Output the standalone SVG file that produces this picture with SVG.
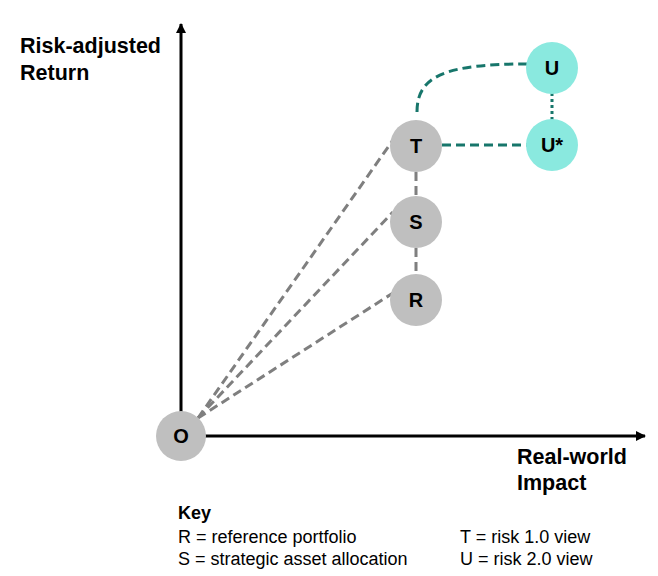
<svg xmlns="http://www.w3.org/2000/svg" width="658" height="576" viewBox="0 0 658 576">
<defs>
<style>
.axis{stroke:#000;stroke-width:3;fill:none}
.gl{stroke:#7f7f7f;stroke-width:3;stroke-dasharray:9,5;fill:none}
.tl{stroke:#17766b;stroke-width:3;stroke-dasharray:9,5;fill:none}
.td{stroke:#17766b;stroke-width:3;stroke-dasharray:3,3;fill:none}
.gn{fill:#bfbfbf}
.tn{fill:#8ae9df}
.nl{font-family:"Liberation Sans",Arial,sans-serif;font-weight:bold;font-size:20px;fill:#000;text-anchor:middle}
.ax{font-family:"Liberation Sans",Arial,sans-serif;font-weight:bold;font-size:21.5px;fill:#000}
.key{font-family:"Liberation Sans",Arial,sans-serif;font-size:18px;fill:#000}
</style>
<marker id="ah" viewBox="0 0 10 10" refX="9" refY="5" markerWidth="10" markerHeight="10" markerUnits="userSpaceOnUse" orient="auto">
<path d="M0,0 L10,5 L0,10 Z" fill="#000"/>
</marker>
</defs>
<g id="connectors">
<line class="axis" x1="181" y1="436" x2="181" y2="24" marker-end="url(#ah)"/>
<line class="axis" x1="181" y1="436" x2="645" y2="436" marker-end="url(#ah)"/>
<line class="gl" x1="198" y1="418" x2="393" y2="140"/>
<line class="gl" x1="198" y1="418" x2="393" y2="212"/>
<line class="gl" x1="198" y1="418" x2="393" y2="293"/>
<line class="gl" x1="416" y1="172" x2="416" y2="196"/>
<line class="gl" x1="416" y1="248" x2="416" y2="274"/>
<line class="tl" x1="442" y1="145" x2="527" y2="145"/>
<path class="tl" d="M417,112 C417,76 445,64 527,64"/>
<line class="td" x1="552" y1="93" x2="552" y2="120"/>
</g>
<g id="node-O"><circle class="gn" cx="181" cy="436" r="25"/><text class="nl" x="181" y="443">O</text></g>
<g id="node-T"><circle class="gn" cx="416" cy="146" r="26"/><text class="nl" x="416" y="153">T</text></g>
<g id="node-S"><circle class="gn" cx="416" cy="222" r="26"/><text class="nl" x="416" y="229">S</text></g>
<g id="node-R"><circle class="gn" cx="416" cy="300" r="26"/><text class="nl" x="416" y="307">R</text></g>
<g id="node-U"><circle class="tn" cx="552" cy="68" r="26"/><text class="nl" x="552" y="75">U</text></g>
<g id="node-Ustar"><circle class="tn" cx="552" cy="145" r="26"/><text class="nl" x="552" y="152">U*</text></g>
<g id="labels">
<text class="ax" x="20" y="53">Risk-adjusted</text>
<text class="ax" x="20" y="80">Return</text>
<text class="ax" x="517" y="464">Real-world</text>
<text class="ax" x="517" y="490">Impact</text>
<text class="key" x="178" y="519" font-weight="bold">Key</text>
<text class="key" x="178" y="543">R = reference portfolio</text>
<text class="key" x="178" y="565">S = strategic asset allocation</text>
<text class="key" x="460" y="543">T = risk 1.0 view</text>
<text class="key" x="460" y="565">U = risk 2.0 view</text>
</g>
</svg>
